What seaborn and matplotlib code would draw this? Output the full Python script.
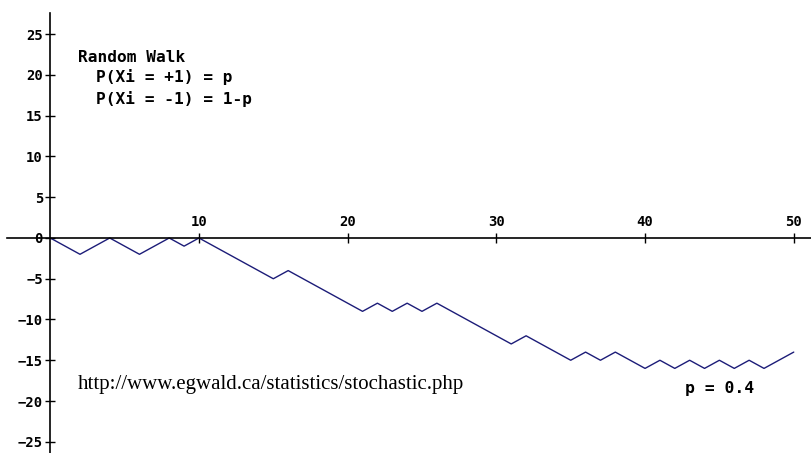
import numpy as np
import pandas as pd
import matplotlib
matplotlib.use('Agg')
import matplotlib.pyplot as plt
import seaborn as sns

# walk position after each step, p = 0.4
steps = list(range(0, 51))
position = [0, -1, -2, -1, 0, -1, -2, -1, 0, -1,
            0, -1, -2, -3, -4, -5, -4, -5, -6, -7,
            -8, -9, -8, -9, -8, -9, -8, -9, -10, -11,
            -12, -13, -12, -13, -14, -15, -14, -15, -14, -15,
            -16, -15, -16, -15, -16, -15, -16, -15, -16, -15,
            -14]
x_ticks = [10, 20, 30, 40, 50]
y_ticks = [-25, -20, -15, -10, -5, 0, 5, 10, 15, 20, 25]

df = pd.DataFrame({'step': steps, 'position': position})

sns.set_style("white")
plt.rcParams['font.family'] = ['DejaVu Sans Mono', 'DejaVu Sans']
plt.rcParams['text.color'] = 'black'
plt.rcParams['xtick.color'] = 'black'
plt.rcParams['ytick.color'] = 'black'

fig = plt.figure(figsize=(8.11, 4.53), dpi=100)
ax = fig.add_axes([0, 0, 1, 1])

sns.lineplot(data=df, x='step', y='position', ax=ax,
             color='#1c1c78', linewidth=1.0)

ax.set_xlim(-3.38, 51.16)
ax.set_ylim(-26.38, 29.2)

# axes crossing at the origin
ax.spines['right'].set_visible(False)
ax.spines['bottom'].set_visible(False)
ax.spines['left'].set_position(('data', 0))
ax.spines['top'].set_position(('data', 0))
ax.spines['left'].set_bounds(-27, 27.6)
ax.spines['top'].set_bounds(-2.9, 51.2)
for s in ['left', 'top']:
    ax.spines[s].set_color('black')
    ax.spines[s].set_linewidth(1.2)

ax.xaxis.set_ticks_position('top')
ax.yaxis.set_ticks_position('left')
ax.set_xticks(x_ticks)
ax.set_yticks(y_ticks)
ax.tick_params(axis='both', direction='inout', length=7.5, width=1,
               color='black', labelcolor='black', labelsize=10, pad=1.5)
ax.tick_params(axis='x', pad=2.5)
for lab in ax.get_xticklabels() + ax.get_yticklabels():
    lab.set_fontweight('bold')
ax.set_xlabel('')
ax.set_ylabel('')

# annotations
W, H = 811, 453
def put(x, y, s, **kw):
    fig.text(x / W, 1 - y / H, s, va='center', ha='left', color='black', **kw)

put(78, 58, 'Random Walk', fontsize=11.6, fontweight='bold')
put(96, 77, 'P(Xi = +1) = p', fontsize=11.6, fontweight='bold')
put(96, 99, 'P(Xi = -1) = 1-p', fontsize=11.6, fontweight='bold')
put(685, 388, 'p = 0.4', fontsize=11.8, fontweight='bold')
put(78, 385, 'http://www.egwald.ca/statistics/stochastic.php',
    fontsize=15, family=['Liberation Serif'])

plt.savefig('out.png', dpi=100)
